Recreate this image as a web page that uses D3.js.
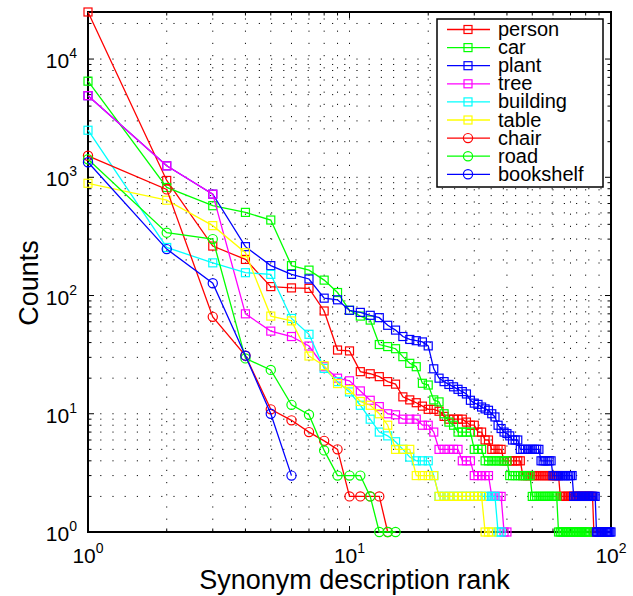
<!DOCTYPE html>
<html><head><meta charset="utf-8">
<script src="https://cdn.jsdelivr.net/npm/d3@7/dist/d3.min.js"></script>
<style>body{margin:0;background:#fff} svg{display:block;font-family:"Liberation Sans",Arial,Helvetica,sans-serif}</style>
</head><body><svg id="c" width="633" height="596"></svg>
<script>
// ---- data (counts by synonym description rank, rank = index+1) ----
const categories = ["person","car","plant","tree","building","table","chair","road","bookshelf"];
const seriesColors = ["#ff0000","#00ff00","#0000ff","#ff00ff","#00ffff","#ffff00","#ff0000","#00ff00","#0000ff"];
const seriesMarkers = ["square","square","square","square","square","square","circle","circle","circle"];

const person = [25000,940,262,202,119,116,115,74,34.6,34,
  22.7,21.8,20.6,18.7,17.8,13.9,13.1,12.4,11.6,10.9,
  10.9,10.5,9.5,9,9,9,9,8.5,8,8,
  7,7,6,6,5,5,5,5,4,4,
  4,4,4,4,4,3,3,3,3,3,
  3,3,3,3,3,3,3,3,3,3,
  3,3,3,2,2,2,2,2,2,2,
  2,2,2,2,2,2,2,2,2,2,
  2,2,2,2,2,1,1,1];
const car = [6500,820,575,505,435,179,164,135,106,75,
  67,62,38.5,37,35.5,30.4,26.7,25,18.1,17.5,
  13.1,12.6,10,8.5,8,7,7,7,7,5,
  5,5,4,4,4,4,4,4,4,4,
  3,3,3,3,3,3,3,3,3,2,
  2,2,2,2,2,2,2,2,2,2,
  2,2,1,1,1,1,1,1,1,1,
  1,1,1,1,1,1,1,1,1,1,
  1,1];
const plant = [4900,1250,720,259,179,151,138,95,92,75,
  72,68,65,56,51,45,42.5,41.5,40.5,37.5,
  24,20,18.7,17.7,16.9,16.1,15.4,14.7,13,12.3,
  12,11.4,11,10.7,10,9.4,8,7.5,7,6.8,
  6.5,6,6,6,5,5,5,5,5,5,
  5,5,5,4,4,4,4,4,4,3,
  3,3,3,3,3,3,3,3,3,3,
  3,2,2,2,2,2,2,2,2,2,
  2,2,2,2,2,2,2,1,1,1,
  1,1,1,1,1,1,1,1,1,1];
const tree = [4900,1250,720,70,50,45,37.4,25,20,19,
  15.6,13,11.5,10,9.8,9,9,9,8,8,
  7,5,5,5,5,5,4,4,4,3,
  3,3,3,3,2,2,2,2,1,1];
const building = [2500,255,189,156,151,64,47,24.2,18.7,15.3,
  11.8,9,7,6.5,5.8,5,4.3,4,4,4,
  3,2,2,2,2,2,2,2,2,2,
  2,2,2,2,2,2,1,1];
const table = [890,640,390,230,67,61,30.8,25.5,18,16,
  12.7,11.8,10,8,5,5,5,3,3,3,
  3,2,2,2,2,2,2,2,2,2,
  2,2,1,1,1];
const chair = [1520,790,66,31,10.9,8.8,7,5.9,5,2,2,2,2,1];
const road = [1420,340,300,29.4,23.5,11.9,9.8,4.9,3,3,3,2,1,1,1];
const bookshelf = [1340,247,127,31,10,3];

const xTickExponents = [0,1,2];
const yTickExponents = [0,1,2,3,4];
const xLabel = "Synonym description rank";
const yLabel = "Counts";

const seriesValues = [person,car,plant,tree,building,table,chair,road,bookshelf];

// ---- layout ----
const L = 88, R = 611, T = 12, B = 532;
const svg = d3.select("#c");
const x = d3.scaleLog().domain([1,100]).range([L,R]);
const y = d3.scaleLog().domain([1,25000]).range([B,T]);

const xTicks = [];
for (let e = 0; e < 2; e++) for (let m = 1; m < 10; m++) xTicks.push(m*Math.pow(10,e));
xTicks.push(100);
const yTicks = [];
for (let e = 0; e < 5; e++) for (let m = 1; m < 10; m++) { const v = m*Math.pow(10,e); if (v <= 25000) yTicks.push(v); }
const isMajor = v => Math.abs(Math.log10(v) - Math.round(Math.log10(v))) < 1e-9;

// grid (dotted)
const g = svg.append("g");
xTicks.forEach(v => { const px = x(v); if (px > L+1 && px < R-1)
  g.append("line").attr("x1",px).attr("x2",px).attr("y1",B).attr("y2",T)
   .attr("stroke","#111").attr("stroke-width",1).attr("stroke-dasharray","1.2,11"); });
yTicks.forEach(v => { const py = y(v); if (py > T+1 && py < B-1)
  g.append("line").attr("x1",L).attr("x2",R).attr("y1",py).attr("y2",py)
   .attr("stroke","#111").attr("stroke-width",1).attr("stroke-dasharray","1.2,11"); });

// ticks on all sides
const tk = svg.append("g").attr("stroke","#000").attr("stroke-width",1);
xTicks.forEach(v => { const px = x(v), len = isMajor(v) ? 6 : 3.5;
  tk.append("line").attr("x1",px).attr("x2",px).attr("y1",B).attr("y2",B-len);
  tk.append("line").attr("x1",px).attr("x2",px).attr("y1",T).attr("y2",T+len); });
yTicks.forEach(v => { const py = y(v), len = isMajor(v) ? 6 : 3.5;
  tk.append("line").attr("x1",L).attr("x2",L+len).attr("y1",py).attr("y2",py);
  tk.append("line").attr("x1",R).attr("x2",R-len).attr("y1",py).attr("y2",py); });

// box
svg.append("rect").attr("x",L).attr("y",T).attr("width",R-L).attr("height",B-T)
  .attr("fill","none").attr("stroke","#000").attr("stroke-width",2);

// tick labels
xTickExponents.forEach(e => {
  const t = svg.append("text").attr("x",x(Math.pow(10,e))).attr("y",563)
    .attr("text-anchor","middle").attr("font-size",21).attr("fill","#000");
  t.append("tspan").text("10");
  t.append("tspan").attr("dy",-10).attr("font-size",14).text(String(e));
});
yTickExponents.forEach(e => {
  const t = svg.append("text").attr("x",77).attr("y",y(Math.pow(10,e))+9)
    .attr("text-anchor","end").attr("font-size",21).attr("fill","#000");
  t.append("tspan").text("10");
  t.append("tspan").attr("dy",-10).attr("font-size",14).text(String(e));
});

// axis labels
svg.append("text").attr("x",(L+R)/2+5).attr("y",589).attr("text-anchor","middle")
  .attr("font-size",27).text(xLabel);
svg.append("text").attr("transform",`translate(38,${(T+B)/2+11}) rotate(-90)`)
  .attr("text-anchor","middle").attr("font-size",27).text(yLabel);

// series
const line = d3.line().x((d,i)=>x(i+1)).y(d=>y(d));
function drawMarker(sel, type, cx, cy, color) {
  if (type === "square") sel.append("rect").attr("x",cx-4).attr("y",cy-4).attr("width",8).attr("height",8)
    .attr("fill","none").attr("stroke",color).attr("stroke-width",1.2);
  else sel.append("circle").attr("cx",cx).attr("cy",cy).attr("r",4.6)
    .attr("fill","none").attr("stroke",color).attr("stroke-width",1.2);
}
seriesValues.forEach((vals, si) => {
  const gs = svg.append("g");
  gs.append("path").attr("d", line(vals)).attr("fill","none")
    .attr("stroke", seriesColors[si]).attr("stroke-width",1.3);
  vals.forEach((v,i) => drawMarker(gs, seriesMarkers[si], x(i+1), y(v), seriesColors[si]));
});

// legend
const lg = svg.append("g");
lg.append("rect").attr("x",437).attr("y",19).attr("width",166).attr("height",168)
  .attr("fill","#fff").attr("stroke","#000").attr("stroke-width",1.5);
categories.forEach((c, i) => {
  const yc = 29.5 + i*18.1;
  lg.append("line").attr("x1",447).attr("x2",490).attr("y1",yc).attr("y2",yc)
    .attr("stroke",seriesColors[i]).attr("stroke-width",1.3);
  drawMarker(lg, seriesMarkers[i], 468, yc, seriesColors[i]);
  lg.append("text").attr("x",498).attr("y",yc+6.5).attr("font-size",20).text(c);
});
</script></body></html>
